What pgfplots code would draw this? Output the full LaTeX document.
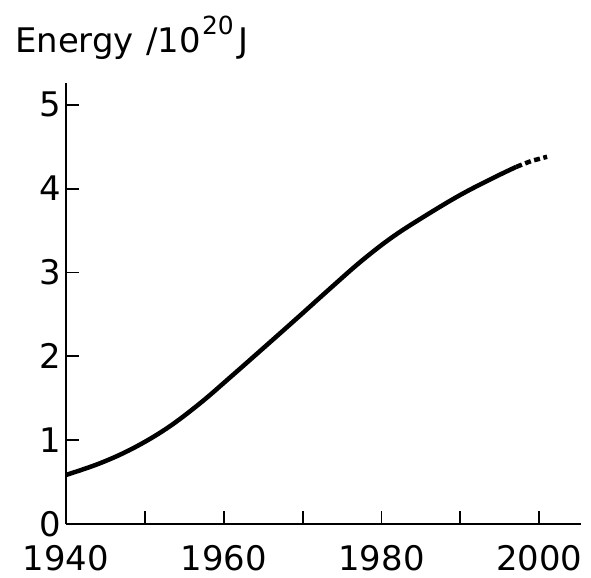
\documentclass[border=0pt]{standalone}
\usepackage{fontspec}
\setmainfont{DejaVu Sans}
\usepackage{pgfplots}
\pgfplotsset{compat=1.18}
\begin{document}
\begin{tikzpicture}
\useasboundingbox (-66bp,-54bp) rectangle (525bp,524bp);
\begin{axis}[
  scale only axis,
  width=515bp, height=441bp,
  xmin=1940, xmax=2005.3,
  ymin=0, ymax=5.26,
  axis lines=left,
  axis line style={-, line width=2.6bp},
  tick align=inside,
  major tick length=13bp,
  tick style={line width=1.8bp, black},
  xtick={1940,1950,...,2000},
  xticklabels={1940,,1960,,1980,,2000},
  ytick={0,1,2,3,4,5},
  /pgf/number format/assume math mode=true,
  tick label style={font=\fontsize{34}{40}\selectfont},
  xticklabel style={yshift=-18bp},
  yticklabel style={xshift=-1bp},
  clip=false,
]
\addplot[line width=4.5bp, smooth, tension=0.6] coordinates {
(1940,0.585) (1944.3,0.724) (1948.5,0.903) (1952.8,1.142) (1957.0,1.44)
(1960.8,1.748) (1965.0,2.096) (1969.3,2.455) (1973.5,2.81) (1977.5,3.14)
(1981.5,3.43) (1985.8,3.69) (1990.0,3.925) (1994,4.12) (1997.1,4.26)
};
\addplot[line width=4.5bp, dash pattern=on 6bp off 3.5bp] coordinates {
(1997.1,4.26) (1999,4.33) (2001,4.38)
};
\end{axis}
\node[anchor=base west, inner sep=0pt, font=\fontsize{34}{40}\selectfont] at (-51bp,471bp) {Energy \hspace{2bp}/10\hspace{1bp}\raisebox{18bp}{\fontsize{25}{25}\selectfont 20}\hspace{5bp}J};
\end{tikzpicture}
\end{document}
